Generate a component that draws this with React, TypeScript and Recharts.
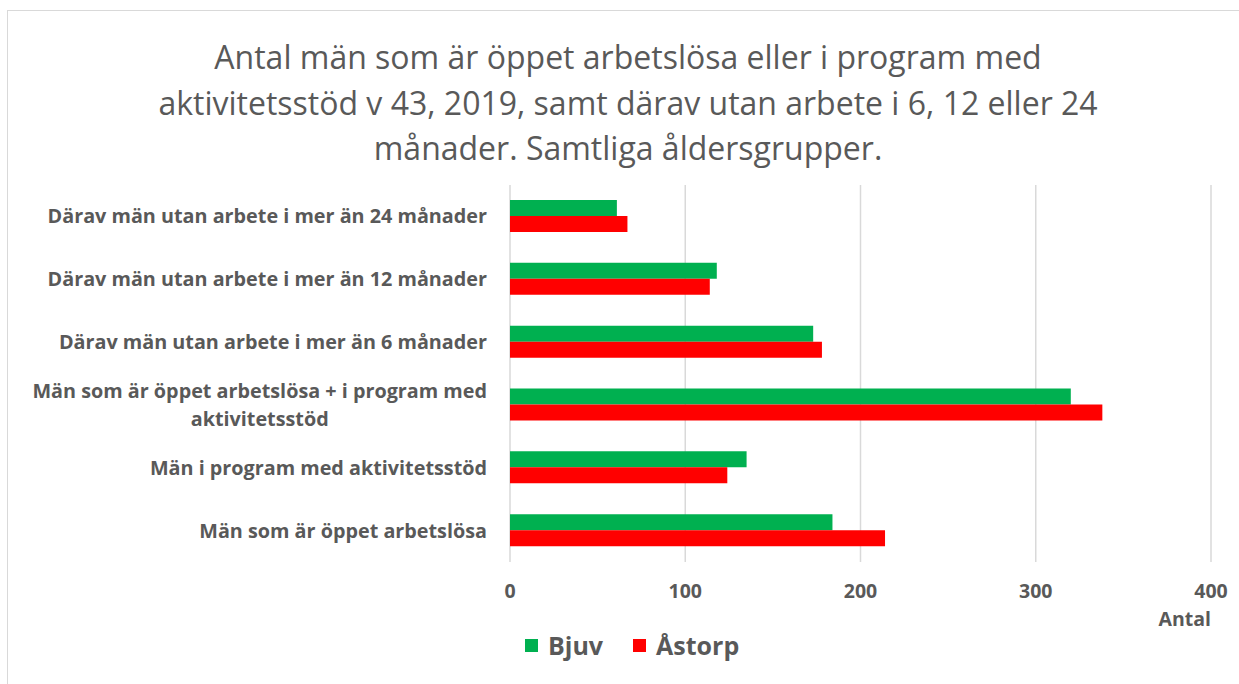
import React from 'react';
import { Bar, BarChart, CartesianGrid, XAxis, YAxis } from 'recharts';

// Labels from top to bottom, as in the picture
const categories = [
  'Därav män utan arbete i mer än 24 månader',
  'Därav män utan arbete i mer än 12 månader',
  'Därav män utan arbete i mer än 6 månader',
  'Män som är öppet arbetslösa + i program med aktivitetsstöd',
  'Män i program med aktivitetsstöd',
  'Män som är öppet arbetslösa',
];
const bjuv = [61, 118, 173, 320, 135, 184];
const astorp = [67, 114, 178, 338, 124, 214];
const xTicks = [0, 100, 200, 300, 400];
const titleLines = [
  'Antal män som är öppet arbetslösa eller i program med',
  'aktivitetsstöd v 43, 2019, samt därav utan arbete i 6, 12 eller 24',
  'månader. Samtliga åldersgrupper.',
];
const seriesNames = ['Bjuv', 'Åstorp'];

const data = categories.map((name, i) => ({ name, bjuv: bjuv[i], astorp: astorp[i] }));

const FONT = '"Open Sans", Lato, sans-serif';
const GRAY = '#595959';
const GREEN = '#00B050';
const RED = '#FF0000';
const LABEL_SIZE = 19.8;

let canvas: HTMLCanvasElement | null = null;
const measure = (text: string, font: string) => {
  if (!canvas) canvas = document.createElement('canvas');
  const ctx = canvas.getContext('2d');
  if (!ctx) return text.length * 10;
  ctx.font = font;
  return ctx.measureText(text).width;
};

const wrap = (text: string, font: string, maxW: number) => {
  const words = text.split(' ');
  const lines: string[] = [];
  let cur = '';
  words.forEach((w) => {
    const next = cur ? cur + ' ' + w : w;
    if (cur && measure(next, font) > maxW) {
      lines.push(cur);
      cur = w;
    } else {
      cur = next;
    }
  });
  if (cur) lines.push(cur);
  return lines;
};

const CategoryTick = (props: any) => {
  const { x, y, payload } = props;
  const font = `bold ${LABEL_SIZE}px ${FONT}`;
  const lines = wrap(payload.value, font, 480);
  const w = Math.max(...lines.map((l) => measure(l, font)));
  const cx = x - w / 2;
  const lh = 28;
  const y0 = y - ((lines.length - 1) * lh) / 2;
  return (
    <text
      x={cx}
      y={y0}
      textAnchor="middle"
      fill={GRAY}
      fontFamily={FONT}
      fontWeight="bold"
      fontSize={LABEL_SIZE}
    >
      {lines.map((l, i) => (
        <tspan key={i} x={cx} y={y0 + i * lh} dy="0.35em">
          {l}
        </tspan>
      ))}
    </text>
  );
};

export default function App() {
  return (
    <div
      style={{
        position: 'absolute',
        left: 0,
        top: 0,
        width: 1239,
        height: 684,
        background: '#fff',
        overflow: 'hidden',
        fontFamily: FONT,
      }}
    >
      <div
        style={{
          position: 'absolute',
          left: 7,
          top: 10,
          width: 1250,
          height: 690,
          border: '1.5px solid #d9d9d9',
        }}
      />
      <div
        style={{
          position: 'absolute',
          left: 16,
          top: 34,
          width: 1224,
          textAlign: 'center',
          color: GRAY,
          fontSize: 32,
          lineHeight: '45.5px',
        }}
      >
        {titleLines.map((t) => (
          <div key={t}>{t}</div>
        ))}
      </div>

      <div style={{ position: 'absolute', left: 0, top: 0 }}>
        <BarChart
          width={1239}
          height={684}
          data={data}
          layout="vertical"
          margin={{ top: 185, right: 28, bottom: 82, left: 0 }}
          barGap={0}
        >
          <CartesianGrid horizontal={false} stroke="#d9d9d9" strokeWidth={1.5} />
          <XAxis
            type="number"
            domain={[0, 400]}
            ticks={xTicks}
            height={40}
            axisLine={false}
            tickLine={false}
            tickSize={0}
            tickMargin={22}
            tick={{ fill: GRAY, fontSize: 19.5, fontWeight: 'bold', fontFamily: FONT }}
          />
          <YAxis
            type="category"
            dataKey="name"
            width={510}
            axisLine={false}
            tickLine={false}
            tickSize={0}
            tickMargin={23}
            tick={<CategoryTick />}
            interval={0}
          />
          <Bar dataKey="bjuv" name={seriesNames[0]} fill={GREEN} barSize={16} isAnimationActive={false} />
          <Bar dataKey="astorp" name={seriesNames[1]} fill={RED} barSize={16} isAnimationActive={false} />
        </BarChart>
      </div>

      <div
        style={{
          position: 'absolute',
          right: 1239 - 1211,
          top: 605,
          color: GRAY,
          fontSize: 19.5,
          fontWeight: 'bold',
        }}
      >
        Antal
      </div>

      <div
        style={{
          position: 'absolute',
          left: 525,
          top: 628,
          display: 'flex',
          alignItems: 'center',
          color: GRAY,
          fontSize: 25,
          fontWeight: 'bold',
        }}
      >
        {seriesNames.map((n, i) => (
          <div key={n} style={{ display: 'flex', alignItems: 'center', marginRight: 30 }}>
            <span
              style={{
                display: 'inline-block',
                width: 13,
                height: 13,
                background: i === 0 ? GREEN : RED,
                marginRight: 10,
              }}
            />
            <span>{n}</span>
          </div>
        ))}
      </div>
    </div>
  );
}
